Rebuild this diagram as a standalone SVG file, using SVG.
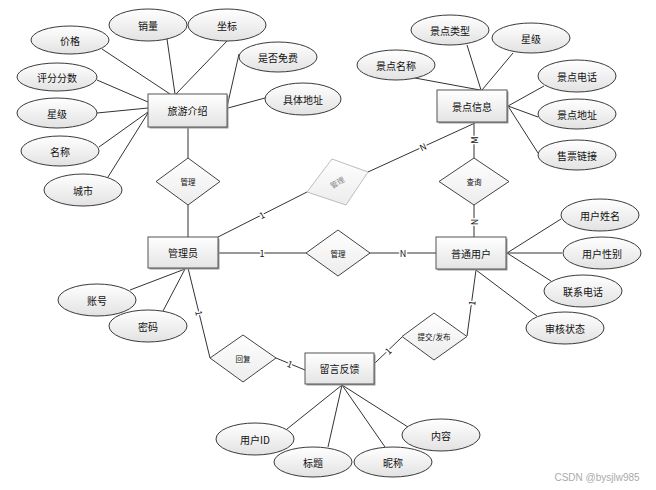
<svg xmlns="http://www.w3.org/2000/svg" width="656" height="490" viewBox="0 0 656 490">
<defs>
<linearGradient id="gE" x1="0" y1="0" x2="0" y2="1"><stop offset="0" stop-color="#ffffff"/><stop offset="1" stop-color="#e2e2e2"/></linearGradient>
<linearGradient id="gR" x1="0" y1="0" x2="0" y2="1"><stop offset="0" stop-color="#ffffff"/><stop offset="1" stop-color="#e4e4e4"/></linearGradient>
<linearGradient id="gD" x1="0" y1="0" x2="0" y2="1"><stop offset="0" stop-color="#ffffff"/><stop offset="1" stop-color="#ececec"/></linearGradient>
<style>
text{font-family:"Noto Sans CJK SC","Liberation Sans",sans-serif;fill:#111;text-anchor:middle;dominant-baseline:central}
.t{font-size:10px}
.d{font-size:7.5px}
.l{font-size:9px;stroke:#fff;stroke-width:3;paint-order:stroke;stroke-linejoin:round}
ellipse{fill:url(#gE);stroke:#3a3a3a;stroke-width:1}
.r{fill:url(#gR);stroke:#555;stroke-width:1}
.sh{fill:#9a9a9a}
.dm{fill:url(#gD);stroke:#444;stroke-width:1}
#connectors line,#connectors polyline{stroke:#333;stroke-width:1;fill:none}
</style>
</defs>
<rect width="656" height="490" fill="#fff"/>
<g id="connectors">
<line x1="102" y1="49" x2="170" y2="94"/>
<line x1="167" y1="39" x2="175" y2="94"/>
<line x1="227" y1="41" x2="176" y2="94"/>
<line x1="239" y1="54" x2="227" y2="107"/>
<line x1="265" y1="98" x2="228" y2="108"/>
<line x1="97" y1="80" x2="148" y2="102"/>
<line x1="97" y1="113" x2="148" y2="108"/>
<line x1="99" y1="147" x2="148" y2="112"/>
<line x1="108" y1="177" x2="148" y2="113"/>
<line x1="188" y1="127" x2="188" y2="158"/>
<line x1="188" y1="205" x2="188" y2="238"/>
<line x1="467" y1="45" x2="481" y2="90"/>
<line x1="513" y1="53" x2="482" y2="90"/>
<line x1="415" y1="78" x2="480" y2="90"/>
<line x1="544" y1="86" x2="508" y2="106"/>
<line x1="538" y1="117" x2="508" y2="106"/>
<line x1="538" y1="153" x2="508" y2="106"/>
<line x1="474" y1="122" x2="474" y2="158"/>
<line x1="474" y1="205" x2="474" y2="237"/>
<line x1="218" y1="237" x2="307" y2="192"/>
<line x1="368" y1="172" x2="475" y2="123"/>
<line x1="218" y1="253" x2="306" y2="253"/>
<line x1="369" y1="253" x2="436" y2="253"/>
<line x1="130" y1="290" x2="185" y2="269"/>
<line x1="163" y1="311" x2="185" y2="269"/>
<line x1="188" y1="268" x2="210" y2="358"/>
<line x1="276" y1="358" x2="305" y2="370"/>
<line x1="561" y1="219" x2="507" y2="253"/>
<line x1="562" y1="253" x2="507" y2="253"/>
<line x1="551" y1="281" x2="507" y2="253"/>
<line x1="537" y1="316" x2="476" y2="270"/>
<line x1="476" y1="270" x2="467" y2="336"/>
<line x1="402" y1="337" x2="375" y2="363"/>
<line x1="342" y1="385" x2="287" y2="429"/>
<line x1="342" y1="385" x2="328" y2="447"/>
<line x1="342" y1="385" x2="385" y2="447"/>
<line x1="342" y1="385" x2="408" y2="427"/>
<text class="l" x="262" y="215" transform="rotate(-27 262 215)">1</text>
<text class="l" x="423" y="147" transform="rotate(-25 423 147)">N</text>
<text class="l" x="474" y="140" transform="rotate(-90 474 140)">M</text>
<text class="l" x="474" y="222" transform="rotate(-90 474 222)">N</text>
<text class="l" x="262" y="253">1</text>
<text class="l" x="403" y="253">N</text>
<text class="l" x="199" y="313" transform="rotate(76 199 313)">1</text>
<text class="l" x="290" y="364" transform="rotate(22 290 364)">1</text>
<text class="l" x="472" y="303" transform="rotate(-82 472 303)">1</text>
<text class="l" x="388" y="351" transform="rotate(-44 388 351)">1</text>
</g>
<g id="lvjieshao"><rect class="sh" x="149.5" y="95.5" width="79" height="33"/><rect class="r" x="148" y="94" width="79" height="33"/><text class="t" x="187.5" y="110.5">旅游介绍</text></g>
<g id="jiage"><ellipse cx="70" cy="40" rx="39" ry="14"/><text class="t" x="70" y="40">价格</text></g>
<g id="xiaoliang"><ellipse cx="148" cy="25" rx="39" ry="16"/><text class="t" x="148" y="25">销量</text></g>
<g id="zuobiao"><ellipse cx="227" cy="25" rx="39" ry="16"/><text class="t" x="227" y="25">坐标</text></g>
<g id="shifoumianfei"><ellipse cx="278" cy="57" rx="39" ry="15"/><text class="t" x="278" y="57">是否免费</text></g>
<g id="jutidizhi"><ellipse cx="303" cy="99" rx="38" ry="16"/><text class="t" x="303" y="99">具体地址</text></g>
<g id="pingfen"><ellipse cx="57" cy="77" rx="40" ry="14"/><text class="t" x="57" y="77">评分分数</text></g>
<g id="xingji1"><ellipse cx="57" cy="113" rx="40" ry="15"/><text class="t" x="57" y="113">星级</text></g>
<g id="mingcheng"><ellipse cx="60" cy="151" rx="39" ry="15"/><text class="t" x="60" y="151">名称</text></g>
<g id="chengshi"><ellipse cx="83" cy="190" rx="39" ry="16"/><text class="t" x="83" y="190">城市</text></g>
<g id="guanli1"><polygon class="dm" points="188,158 220,181.5 188,205 156,181.5"/><text class="d" x="188" y="181.5">管理</text></g>
<g id="jingdianxinxi"><rect class="sh" x="438.5" y="91.5" width="70" height="32"/><rect class="r" x="437" y="90" width="70" height="32"/><text class="t" x="472" y="106">景点信息</text></g>
<g id="jingdianleixing"><ellipse cx="450" cy="30" rx="39" ry="15"/><text class="t" x="450" y="30">景点类型</text></g>
<g id="xingji2"><ellipse cx="531" cy="38" rx="39" ry="15"/><text class="t" x="531" y="38">星级</text></g>
<g id="jingdianmingcheng"><ellipse cx="396" cy="65" rx="39" ry="15"/><text class="t" x="396" y="65">景点名称</text></g>
<g id="jingdiandianhua"><ellipse cx="577" cy="76" rx="39" ry="16"/><text class="t" x="577" y="76">景点电话</text></g>
<g id="jingdiandizhi"><ellipse cx="577" cy="114" rx="39" ry="15"/><text class="t" x="577" y="114">景点地址</text></g>
<g id="shoupiao"><ellipse cx="577" cy="155" rx="39" ry="15"/><text class="t" x="577" y="155">售票链接</text></g>
<g id="chaxun"><polygon class="dm" points="474,158 509,181.5 474,205 439,181.5"/><text class="d" x="474" y="181.5">查询</text></g>
<g id="guanli2"><polygon points="332,159 368,172 346,205 307,192" fill="url(#gD)" stroke="#bdbdbd" stroke-width="1"/><text class="d" x="337" y="182" transform="rotate(-30 337 182)" style="fill:#888">管理</text></g>
<g id="guanliyuan"><rect class="sh" x="149.5" y="238.5" width="70" height="31"/><rect class="r" x="148" y="237" width="70" height="31"/><text class="t" x="183" y="252.5">管理员</text></g>
<g id="guanli3"><polygon class="dm" points="338,230 370,253 338,276 306,253"/><text class="d" x="338" y="253">管理</text></g>
<g id="putongyonghu"><rect class="sh" x="437.5" y="238.5" width="70" height="32"/><rect class="r" x="436" y="237" width="70" height="32"/><text class="t" x="471" y="253">普通用户</text></g>
<g id="zhanghao"><ellipse cx="97" cy="300" rx="39" ry="16"/><text class="t" x="97" y="300">账号</text></g>
<g id="mima"><ellipse cx="148" cy="326" rx="39" ry="16"/><text class="t" x="148" y="326">密码</text></g>
<g id="yonghuxingming"><ellipse cx="600" cy="215" rx="39" ry="16"/><text class="t" x="600" y="215">用户姓名</text></g>
<g id="yonghuxingbie"><ellipse cx="602" cy="253" rx="39" ry="16"/><text class="t" x="602" y="253">用户性别</text></g>
<g id="lianxidianhua"><ellipse cx="583" cy="291" rx="39" ry="16"/><text class="t" x="583" y="291">联系电话</text></g>
<g id="shenhezhuangtai"><ellipse cx="565" cy="328" rx="39" ry="16"/><text class="t" x="565" y="328">审核状态</text></g>
<g id="huifu"><polygon class="dm" points="243,335 276,358 243,382 210,358"/><text class="d" x="243" y="358">回复</text></g>
<g id="tijiao"><polygon class="dm" points="434,313 467,336.5 434,360 402,336.5"/><text class="d" x="434" y="336.5">提交/发布</text></g>
<g id="liuyanfankui"><rect class="sh" x="306.5" y="354.5" width="69" height="31"/><rect class="r" x="305" y="353" width="69" height="31"/><text class="t" x="339.5" y="368.5">留言反馈</text></g>
<g id="yonghuid"><ellipse cx="255" cy="439" rx="39" ry="16"/><text class="t" x="255" y="439">用户ID</text></g>
<g id="biaoti"><ellipse cx="313" cy="462" rx="39" ry="15"/><text class="t" x="313" y="462">标题</text></g>
<g id="nicheng"><ellipse cx="393" cy="462" rx="39" ry="15"/><text class="t" x="393" y="462">昵称</text></g>
<g id="neirong"><ellipse cx="441" cy="435" rx="39" ry="16"/><text class="t" x="441" y="435">内容</text></g>
<text x="597" y="477" style="font-size:10px;fill:#aaa;font-family:'Liberation Sans',sans-serif">CSDN @bysjlw985</text>
</svg>
